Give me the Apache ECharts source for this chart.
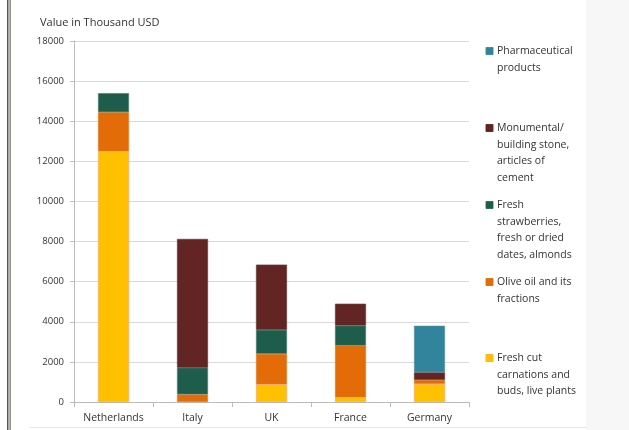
<!DOCTYPE html>
<html>
<head>
<meta charset="utf-8">
<script src="https://cdn.jsdelivr.net/npm/echarts@6/dist/echarts.min.js"></script>
<style>
  html, body { margin: 0; padding: 0; background: #fff; }
  #chart { width: 629px; height: 430px; }
</style>
</head>
<body>
<div id="chart"></div>
<script>
const countries = ["Netherlands", "Italy", "UK", "France", "Germany"];
const yTicks = [0, 2000, 4000, 6000, 8000, 10000, 12000, 14000, 16000, 18000];

// values in thousand USD, bottom to top
const freshCut = [12500, 0, 880, 230, 900];
const oliveOil = [1950, 380, 1520, 2580, 200];
const strawberries = [950, 1330, 1200, 1000, 0];
const stone = [0, 6420, 3250, 1090, 380];
const pharma = [0, 0, 0, 0, 2320];

const seriesNames = [
  "Pharmaceutical\nproducts",
  "Monumental/\nbuilding stone,\narticles of\ncement",
  "Fresh\nstrawberries,\nfresh or dried\ndates, almonds",
  "Olive oil and its\nfractions",
  "Fresh cut\ncarnations and\nbuds, live plants",
];
const legendTops = [45, 122, 199, 276, 352];

const chart = echarts.init(document.getElementById("chart"));
const font = "'Open Sans', 'Noto Sans', sans-serif";

const colors = ["#31849b", "#632523", "#1e5c4b", "#e36c09", "#ffc000"];
const borders = ["#5f8fa0", "#5a3a38", "#50806f", "#d9822b", "#f4a07a"];

function bar(i, data) {
  return {
    name: seriesNames[i],
    type: "bar",
    stack: "total",
    barWidth: 31,
    // zero segments are left out so no border line shows
    data: data.map((v) => (v === 0 ? null : v)),
    itemStyle: { color: colors[i], borderColor: borders[i], borderWidth: 0.6 },
  };
}

const series = [
  bar(4, freshCut),
  bar(3, oliveOil),
  bar(2, strawberries),
  bar(1, stone),
  bar(0, pharma),
];

const legends = seriesNames.map((n, i) => ({
  data: [n],
  left: 481,
  top: legendTops[i],
  icon: "none",
  itemWidth: 0,
  itemHeight: 0,
  itemGap: 0,
  selectedMode: false,
  padding: 0,
  formatter: (name) =>
    name
      .split("\n")
      .map((line, k) => (k === 0 ? "{sq|}{sp|}" : "{ind|}") + "{t|" + line + "}")
      .join("\n"),
  textStyle: {
    rich: {
      sq: { width: 7, height: 7, backgroundColor: colors[i], borderColor: borders[i], borderWidth: 0.5 },
      sp: { width: 4 },
      ind: { width: 11 },
      t: { fontFamily: font, fontSize: 10.5, color: "#333", lineHeight: 16.6 },
    },
  },
}));

chart.setOption({
  animation: false,
  graphic: [
    { type: "rect", shape: { x: 586, y: 0, width: 43, height: 430 }, style: { fill: "#f7f7f7" } },
    { type: "rect", shape: { x: 7, y: 0, width: 1.5, height: 430 }, style: { fill: "#555" } },
    { type: "rect", shape: { x: 9.5, y: 0, width: 1.2, height: 430 }, style: { fill: "#6b6b5e" } },
    { type: "rect", shape: { x: 30, y: 427, width: 556, height: 1 }, style: { fill: "#e6e6e6" } },
  ],
  title: {
    text: "Value in Thousand USD",
    left: 35,
    top: 12,
    textStyle: { fontFamily: font, fontSize: 11, fontWeight: "normal", color: "#333" },
  },
  legend: legends,
  grid: { left: 74, right: 160, top: 41, bottom: 28 },
  xAxis: {
    type: "category",
    data: countries,
    axisLine: { lineStyle: { color: "#bbb" } },
    axisTick: { show: true, length: 5, lineStyle: { color: "#bbb" } },
    axisLabel: { interval: 0, fontFamily: font, fontSize: 10.5, color: "#333", margin: 11 },
  },
  yAxis: {
    type: "value",
    min: 0,
    max: 18000,
    interval: 2000,
    axisLine: { show: true, lineStyle: { color: "#bbb" } },
    axisTick: { show: true, length: 4, lineStyle: { color: "#bbb" } },
    axisLabel: {
      fontFamily: font,
      fontSize: 9.5,
      color: "#333",
      margin: 10,
      formatter: (v) => (yTicks.includes(v) ? String(v) : ""),
    },
    splitLine: { lineStyle: { color: "#d9d9d9" } },
  },
  series: series,
});
</script>
</body>
</html>
